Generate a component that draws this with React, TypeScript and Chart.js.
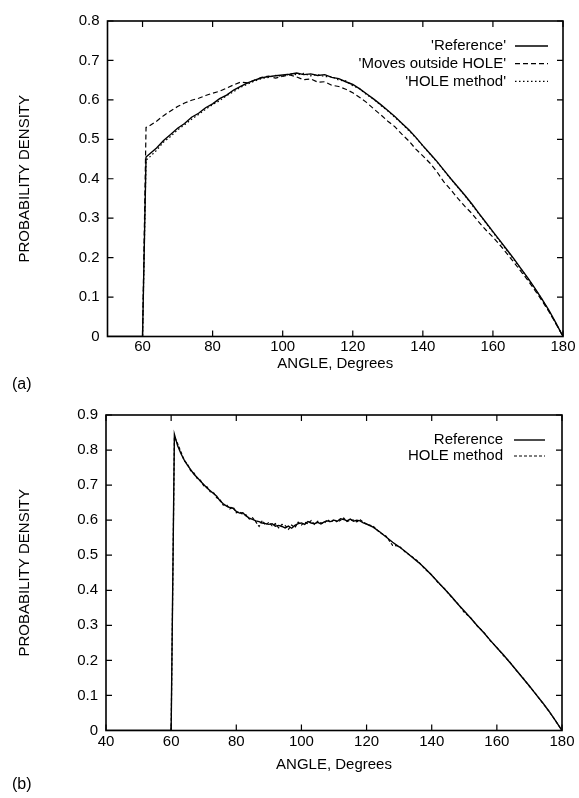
import React, { useEffect, useRef } from 'react';
import { Chart, registerables } from 'chart.js';

Chart.register(...registerables);

const FONT = '"Liberation Sans", Arial, Helvetica, sans-serif';

// ---------- Panel (a) data ----------
const ANGLE_A = [
  50, 60, 61,
  62, 64, 66, 68, 70, 72, 74, 76, 78, 80,
  82, 84, 86, 88, 90, 92, 94, 96, 98, 100,
  102, 104, 106, 108, 110, 112, 114, 116, 118, 120,
  122, 124, 126, 128, 130, 132, 134, 136, 138, 140,
  142, 144, 146, 148, 150, 152, 154, 156, 158, 160,
  162, 164, 166, 168, 170, 172, 174, 176, 178, 180,
];
const REF_A = [
  0, 0, 0.455,
  0.463, 0.478, 0.497, 0.512, 0.528, 0.540, 0.556, 0.566, 0.580, 0.590,
  0.603, 0.612, 0.625, 0.634, 0.643, 0.650, 0.656, 0.659, 0.661, 0.663,
  0.665, 0.668, 0.664, 0.666, 0.662, 0.664, 0.657, 0.654, 0.646, 0.639,
  0.628, 0.615, 0.602, 0.588, 0.573, 0.558, 0.541, 0.524, 0.505, 0.484,
  0.464, 0.444, 0.422, 0.400, 0.379, 0.358, 0.336, 0.312, 0.289, 0.266,
  0.243, 0.220, 0.197, 0.172, 0.148, 0.122, 0.095, 0.066, 0.034, 0,
];
const MOVES_A = [
  0, 0, 0.530,
  0.534, 0.546, 0.560, 0.572, 0.583, 0.592, 0.599, 0.604, 0.611, 0.617,
  0.622, 0.630, 0.638, 0.645, 0.643, 0.650, 0.657, 0.660, 0.655, 0.660,
  0.663, 0.658, 0.651, 0.653, 0.645, 0.646, 0.637, 0.634, 0.627, 0.618,
  0.606, 0.593, 0.577, 0.562, 0.546, 0.532, 0.513, 0.496, 0.475, 0.458,
  0.440, 0.418, 0.392, 0.372, 0.350, 0.330, 0.312, 0.290, 0.270, 0.252,
  0.232, 0.210, 0.188, 0.165, 0.142, 0.117, 0.091, 0.063, 0.032, 0,
];
const HOLE_A = [
  0, 0, 0.447,
  0.455, 0.472, 0.493, 0.507, 0.524, 0.537, 0.551, 0.563, 0.576, 0.588,
  0.598, 0.611, 0.621, 0.632, 0.640, 0.648, 0.654, 0.657, 0.662, 0.660,
  0.666, 0.664, 0.667, 0.661, 0.664, 0.659, 0.659, 0.650, 0.648, 0.636,
  0.628, 0.613, 0.601, 0.586, 0.572, 0.556, 0.540, 0.522, 0.504, 0.483,
  0.463, 0.443, 0.421, 0.399, 0.378, 0.357, 0.334, 0.311, 0.288, 0.264,
  0.241, 0.218, 0.195, 0.171, 0.146, 0.121, 0.094, 0.065, 0.033, 0,
];
const X_TICKS_A = [60, 80, 100, 120, 140, 160, 180];
const Y_TICKS_A = [0, 0.1, 0.2, 0.3, 0.4, 0.5, 0.6, 0.7, 0.8];
const LABELS_A = ["'Reference'", "'Moves outside HOLE'", "'HOLE method'"];

// ---------- Panel (b) data ----------
const ANGLE_B = [
  40, 60, 61,
  62, 63, 64, 65, 66, 67, 68, 69, 70, 71,
  72, 73, 74, 75, 76, 77, 78, 79, 80, 81,
  82, 83, 84, 85, 86, 87, 88, 89, 90, 91,
  92, 93, 94, 95, 96, 97, 98, 99, 100, 101,
  102, 103, 104, 105, 106, 107, 108, 109, 110, 111,
  112, 113, 114, 115, 116, 117, 118, 119, 120,
  122, 124, 126, 128, 130, 132, 134, 136, 138, 140,
  142, 144, 146, 148, 150, 152, 154, 156, 158, 160,
  162, 164, 166, 168, 170, 172, 174, 176, 178, 180,
];
const REF_B = [
  0, 0, 0.845,
  0.812, 0.790, 0.772, 0.757, 0.744, 0.731, 0.722, 0.711, 0.702, 0.692,
  0.684, 0.676, 0.668, 0.655, 0.647, 0.640, 0.636, 0.634, 0.625, 0.620,
  0.621, 0.612, 0.606, 0.602, 0.598, 0.596, 0.592, 0.590, 0.588, 0.590,
  0.583, 0.585, 0.582, 0.578, 0.583, 0.577, 0.585, 0.590, 0.592, 0.588,
  0.596, 0.592, 0.590, 0.594, 0.589, 0.595, 0.598, 0.596, 0.600, 0.597,
  0.604, 0.602, 0.598, 0.603, 0.597, 0.600, 0.598, 0.592, 0.589,
  0.580, 0.567, 0.552, 0.537, 0.524, 0.510, 0.494, 0.479, 0.462, 0.443,
  0.423, 0.403, 0.383, 0.361, 0.341, 0.320, 0.299, 0.279, 0.257, 0.236,
  0.216, 0.194, 0.172, 0.149, 0.127, 0.103, 0.080, 0.055, 0.028, 0,
];
const HOLE_B = [
  0, 0, 0.838,
  0.818, 0.795, 0.770, 0.760, 0.741, 0.735, 0.719, 0.714, 0.698, 0.695,
  0.681, 0.679, 0.664, 0.659, 0.643, 0.644, 0.632, 0.638, 0.621, 0.624,
  0.616, 0.615, 0.603, 0.607, 0.595, 0.582, 0.599, 0.586, 0.594, 0.584,
  0.590, 0.578, 0.588, 0.585, 0.574, 0.586, 0.579, 0.594, 0.586, 0.594,
  0.590, 0.599, 0.588, 0.597, 0.592, 0.591, 0.602, 0.593, 0.603, 0.594,
  0.600, 0.606, 0.596, 0.600, 0.600, 0.595, 0.601, 0.595, 0.588,
  0.583, 0.565, 0.554, 0.528, 0.526, 0.508, 0.496, 0.481, 0.460, 0.444,
  0.421, 0.404, 0.381, 0.362, 0.337, 0.321, 0.298, 0.280, 0.256, 0.237,
  0.214, 0.195, 0.171, 0.150, 0.126, 0.104, 0.079, 0.055, 0.028, 0,
];
const X_TICKS_B = [40, 60, 80, 100, 120, 140, 160, 180];
const Y_TICKS_B = [0, 0.1, 0.2, 0.3, 0.4, 0.5, 0.6, 0.7, 0.8, 0.9];
const LABELS_B = ['Reference', 'HOLE method'];

// ---------- plugins ----------
const frameTicks = {
  id: 'frameTicks',
  afterDatasetsDraw(chart: any) {
    const { ctx, chartArea: a, scales } = chart;
    const x = scales.x;
    const y = scales.y;
    const L = 6;
    ctx.save();
    ctx.strokeStyle = '#000';
    ctx.setLineDash([]);
    ctx.lineWidth = 1.2;
    ctx.beginPath();
    x.ticks.forEach((t: any) => {
      const px = x.getPixelForValue(t.value);
      ctx.moveTo(px, a.bottom);
      ctx.lineTo(px, a.bottom - L);
      ctx.moveTo(px, a.top);
      ctx.lineTo(px, a.top + L);
    });
    y.ticks.forEach((t: any) => {
      const py = y.getPixelForValue(t.value);
      ctx.moveTo(a.left, py);
      ctx.lineTo(a.left + L, py);
      ctx.moveTo(a.right, py);
      ctx.lineTo(a.right - L, py);
    });
    ctx.stroke();
    ctx.lineWidth = 1.6;
    ctx.strokeRect(a.left, a.top, a.right - a.left, a.bottom - a.top);
    ctx.restore();
  },
};

const lineKey = {
  id: 'lineKey',
  afterDatasetsDraw(chart: any, _args: any, opts: any) {
    const { ctx, chartArea: a } = chart;
    ctx.save();
    ctx.font = `15px ${FONT}`;
    ctx.fillStyle = '#000';
    ctx.strokeStyle = '#000';
    ctx.textAlign = 'right';
    ctx.textBaseline = 'middle';
    chart.data.datasets.forEach((ds: any, i: number) => {
      const yy = a.top + opts.top + i * opts.gap;
      ctx.fillText(ds.label, a.right - opts.textRight, yy);
      ctx.setLineDash(ds.borderDash || []);
      ctx.lineWidth = ds.borderWidth;
      ctx.beginPath();
      ctx.moveTo(a.right - opts.x1, yy);
      ctx.lineTo(a.right - opts.x2, yy);
      ctx.stroke();
    });
    ctx.restore();
  },
};

const panelTag = {
  id: 'panelTag',
  afterDraw(chart: any, _args: any, opts: any) {
    const { ctx } = chart;
    ctx.save();
    ctx.font = `16px ${FONT}`;
    ctx.fillStyle = '#000';
    ctx.textAlign = 'left';
    ctx.textBaseline = 'middle';
    ctx.fillText(opts.text, opts.x, opts.y);
    ctx.restore();
  },
};

function makeSeries(xs: number[], ys: number[]) {
  return xs.map((x, i) => ({ x, y: ys[i] }));
}

const SOLID = { borderDash: [] as number[], borderWidth: 1.4 };
const DASHED = { borderDash: [5, 3], borderWidth: 1.2 };
const DOTTED = { borderDash: [1.5, 2.5], borderWidth: 1.2 };
const DASHED_B = { borderDash: [3, 2], borderWidth: 1.2 };

function buildConfig(p: {
  datasets: any[];
  xMin: number;
  xMax: number;
  yMax: number;
  xTicks: number[];
  yTicks: number[];
  yWidth: number;
  xHeight: number;
  padTop: number;
  padRight: number;
  tickPad: number;
  titlePadBottom: number;
  key: any;
  tag: any;
}) {
  const tickFont = { family: FONT, size: 15 };
  return {
    type: 'line',
    data: { datasets: p.datasets },
    plugins: [frameTicks, lineKey, panelTag],
    options: {
      animation: false,
      responsive: false,
      maintainAspectRatio: false,
      layout: { padding: { left: 0, right: p.padRight, top: p.padTop, bottom: 0 } },
      elements: { point: { radius: 0, hoverRadius: 0 }, line: { tension: 0, borderColor: '#000' } },
      plugins: {
        legend: { display: false },
        tooltip: { enabled: false },
        lineKey: p.key,
        panelTag: p.tag,
      },
      scales: {
        x: {
          type: 'linear',
          min: p.xMin,
          max: p.xMax,
          grid: { display: false, drawTicks: false },
          border: { display: false },
          afterBuildTicks: (s: any) => {
            s.ticks = p.xTicks.map((v) => ({ value: v }));
          },
          afterFit: (s: any) => {
            s.height = p.xHeight;
          },
          ticks: {
            color: '#000',
            font: tickFont,
            padding: p.tickPad,
            maxRotation: 0,
            autoSkip: false,
            callback: (v: any) => String(v),
          },
          title: {
            display: true,
            text: 'ANGLE, Degrees',
            color: '#000',
            font: tickFont,
            padding: { top: 0, bottom: p.titlePadBottom },
          },
        },
        y: {
          type: 'linear',
          min: 0,
          max: p.yMax,
          grid: { display: false, drawTicks: false },
          border: { display: false },
          afterBuildTicks: (s: any) => {
            s.ticks = p.yTicks.map((v) => ({ value: v }));
          },
          afterFit: (s: any) => {
            s.width = p.yWidth;
          },
          ticks: {
            color: '#000',
            font: tickFont,
            padding: 8,
            autoSkip: false,
            callback: (v: any) => (Number(v) === 0 ? '0' : Number(v).toFixed(1)),
          },
          title: {
            display: true,
            text: 'PROBABILITY DENSITY',
            color: '#000',
            font: tickFont,
            padding: { top: 16, bottom: 0 },
          },
        },
      },
    },
  };
}

export default function App() {
  const refA = useRef<HTMLCanvasElement | null>(null);
  const refB = useRef<HTMLCanvasElement | null>(null);

  useEffect(() => {
    const dsA = [
      { label: LABELS_A[0], data: makeSeries(ANGLE_A, REF_A), borderColor: '#000', ...SOLID },
      { label: LABELS_A[1], data: makeSeries(ANGLE_A, MOVES_A), borderColor: '#000', ...DASHED },
      { label: LABELS_A[2], data: makeSeries(ANGLE_A, HOLE_A), borderColor: '#000', ...DOTTED },
    ];
    const dsB = [
      { label: LABELS_B[0], data: makeSeries(ANGLE_B, REF_B), borderColor: '#000', ...SOLID },
      { label: LABELS_B[1], data: makeSeries(ANGLE_B, HOLE_B), borderColor: '#000', ...DASHED_B },
    ];
    const chartA = new Chart(
      refA.current as HTMLCanvasElement,
      buildConfig({
        datasets: dsA,
        xMin: 50,
        xMax: 180,
        yMax: 0.8,
        xTicks: X_TICKS_A,
        yTicks: Y_TICKS_A,
        yWidth: 107.5,
        xHeight: 61.5,
        padTop: 21,
        padRight: 16,
        tickPad: 1.5,
        titlePadBottom: 25,
        key: { top: 25, gap: 17.7, textRight: 57, x1: 48, x2: 15 },
        tag: { text: '(a)', x: 12, y: 385 },
      }) as any
    );
    const chartB = new Chart(
      refB.current as HTMLCanvasElement,
      buildConfig({
        datasets: dsB,
        xMin: 40,
        xMax: 180,
        yMax: 0.9,
        xTicks: X_TICKS_B,
        yTicks: Y_TICKS_B,
        yWidth: 106,
        xHeight: 67.5,
        padTop: 16,
        padRight: 17,
        tickPad: 2,
        titlePadBottom: 24,
        key: { top: 25, gap: 16, textRight: 59, x1: 48, x2: 17 },
        tag: { text: '(b)', x: 12, y: 387 },
      }) as any
    );
    return () => {
      chartA.destroy();
      chartB.destroy();
    };
  }, []);

  return (
    <div style={{ position: 'absolute', left: 0, top: 0, width: 579, height: 798, background: '#fff' }}>
      <canvas
        ref={refA}
        width={579}
        height={398}
        style={{ position: 'absolute', left: 0, top: 0, width: 579, height: 398 }}
      />
      <canvas
        ref={refB}
        width={579}
        height={400}
        style={{ position: 'absolute', left: 0, top: 398, width: 579, height: 400 }}
      />
    </div>
  );
}
